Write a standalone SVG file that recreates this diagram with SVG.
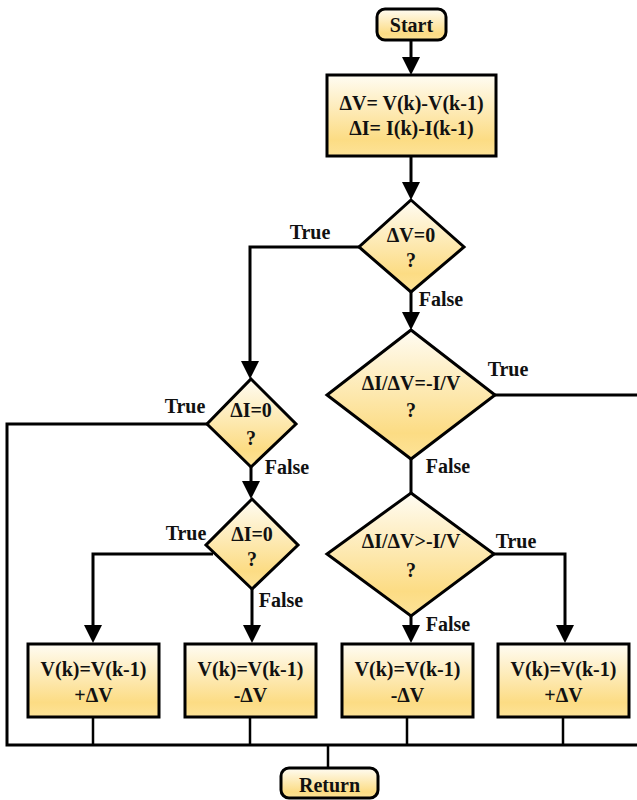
<svg xmlns="http://www.w3.org/2000/svg" width="637" height="800" viewBox="0 0 637 800">
<style>
.n{fill:url(#g);stroke:#000;stroke-width:3;stroke-linejoin:miter}
.t{font-family:"Liberation Serif","Times New Roman",serif;font-weight:bold;font-size:20px;fill:#111;text-anchor:middle}
.c{fill:none;stroke:#000;stroke-width:3;stroke-linejoin:miter}
.b{fill:none;stroke:#000;stroke-width:2.5}
</style>
<defs>
<linearGradient id="g" x1="0" y1="0" x2="0" y2="1">
<stop offset="0" stop-color="#fffcf3"/>
<stop offset="0.8" stop-color="#fcdc84"/>
<stop offset="1" stop-color="#fde398"/>
</linearGradient>
<marker id="a" markerUnits="userSpaceOnUse" markerWidth="18" markerHeight="18" viewBox="0 0 18 18" refX="8" refY="9" orient="auto">
<path d="M0,0 L18,9 L0,18 z" fill="#000"/>
</marker>
</defs>
<g id="connectors">
<path class="c" d="M411,40 V65" marker-end="url(#a)"/>
<path class="c" d="M411,156 V190" marker-end="url(#a)"/>
<path class="c" d="M359,247 H250 V369" marker-end="url(#a)"/>
<path class="c" d="M411,292 V320" marker-end="url(#a)"/>
<path class="c" d="M495,395 H637"/>
<path class="c" d="M411,459 V493"/>
<path class="c" d="M207,424 H7 V745 H637"/>
<path class="c" d="M251,467 V489" marker-end="url(#a)"/>
<path class="c" d="M213,554 H93 V633" marker-end="url(#a)"/>
<path class="c" d="M252,589 V633" marker-end="url(#a)"/>
<path class="c" d="M494,554 H565 V633" marker-end="url(#a)"/>
<path class="c" d="M411,616 V633" marker-end="url(#a)"/>
<path class="b" d="M93,717 V745 M250,717 V745 M407,717 V745 M563,717 V745 M328,745 V768"/>
</g>
<g id="start">
<rect class="n" x="377" y="9" width="69" height="31" rx="8"/>
<text class="t" x="411.5" y="32">Start</text>
</g>
<g id="delta">
<rect class="n" x="327" y="75" width="169" height="81"/>
<text class="t" x="411.5" y="110">ΔV= V(k)-V(k-1)</text>
<text class="t" x="411.5" y="135">ΔI= I(k)-I(k-1)</text>
</g>
<g id="d1">
<polygon class="n" points="411,200 464,247 411,292 359,247"/>
<text class="t" x="411" y="242">ΔV=0</text>
<text class="t" x="411" y="267">?</text>
<text class="t" x="310" y="239">True</text>
<text class="t" x="441" y="306">False</text>
</g>
<g id="d3">
<polygon class="n" points="411,330 495,395 411,459 327,395"/>
<text class="t" x="411" y="390">ΔI/ΔV=-I/V</text>
<text class="t" x="411" y="417">?</text>
<text class="t" x="508" y="376">True</text>
<text class="t" x="448" y="473">False</text>
</g>
<g id="d2">
<polygon class="n" points="251,379 296,424 251,467 207,424"/>
<text class="t" x="251" y="417">ΔI=0</text>
<text class="t" x="251" y="445">?</text>
<text class="t" x="185" y="413">True</text>
<text class="t" x="287" y="474">False</text>
</g>
<g id="d4">
<polygon class="n" points="252,499 298,545 252,589 206,545"/>
<text class="t" x="252" y="541">ΔI=0</text>
<text class="t" x="252" y="566">?</text>
<text class="t" x="186" y="540">True</text>
<text class="t" x="281" y="607">False</text>
</g>
<g id="d5">
<polygon class="n" points="411,493 494,554 411,616 327,554"/>
<text class="t" x="411" y="548">ΔI/ΔV&gt;-I/V</text>
<text class="t" x="411" y="577">?</text>
<text class="t" x="516" y="548">True</text>
<text class="t" x="448" y="631">False</text>
</g>
<g id="box1">
<rect class="n" x="28" y="644" width="131" height="73"/>
<text class="t" x="93.5" y="676">V(k)=V(k-1)</text>
<text class="t" x="93.5" y="702">+ΔV</text>
</g>
<g id="box2">
<rect class="n" x="185" y="644" width="131" height="73"/>
<text class="t" x="250.5" y="676">V(k)=V(k-1)</text>
<text class="t" x="250.5" y="702">-ΔV</text>
</g>
<g id="box3">
<rect class="n" x="342" y="644" width="131" height="73"/>
<text class="t" x="407.5" y="676">V(k)=V(k-1)</text>
<text class="t" x="407.5" y="702">-ΔV</text>
</g>
<g id="box4">
<rect class="n" x="498" y="644" width="131" height="73"/>
<text class="t" x="563.5" y="676">V(k)=V(k-1)</text>
<text class="t" x="563.5" y="702">+ΔV</text>
</g>
<g id="return">
<rect class="n" x="281" y="768" width="97" height="30" rx="8"/>
<text class="t" x="329.5" y="792">Return</text>
</g>
</svg>
